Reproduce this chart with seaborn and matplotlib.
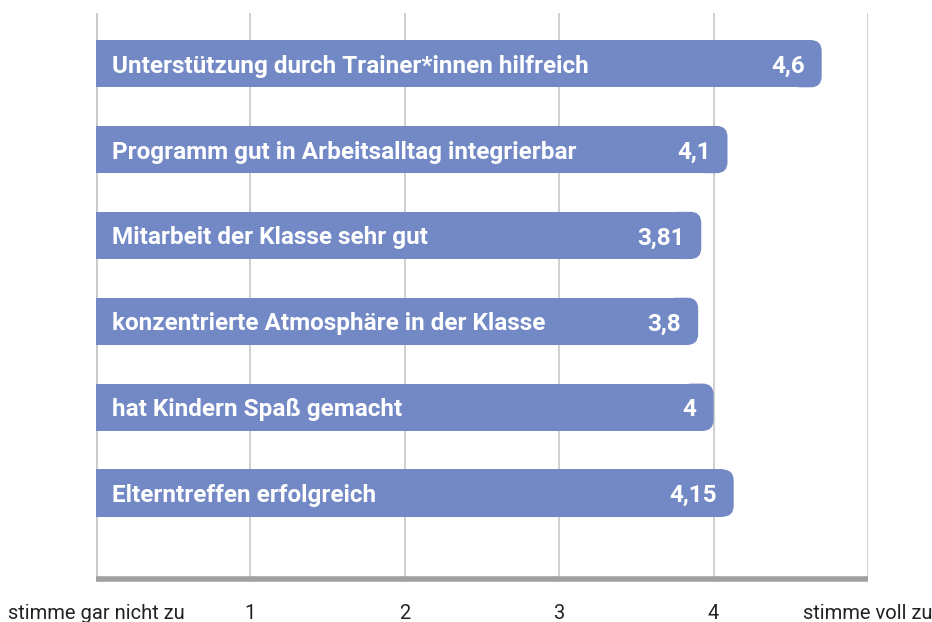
import matplotlib
matplotlib.use("Agg")
import matplotlib.pyplot as plt
from matplotlib.patches import FancyBboxPatch
import seaborn as sns
import pandas as pd

# daten aus dem bild
aussagen = [
    "Unterstützung durch Trainer*innen hilfreich",
    "Programm gut in Arbeitsalltag integrierbar",
    "Mitarbeit der Klasse sehr gut",
    "konzentrierte Atmosphäre in der Klasse",
    "hat Kindern Spaß gemacht",
    "Elterntreffen erfolgreich",
]
# balkenlaengen wie im bild gezeichnet
laengen = [4.70, 4.09, 3.92, 3.90, 4.00, 4.13]
# beschriftung der werte
werte_text = ["4,6", "4,1", "3,81", "3,8", "4", "4,15"]
tick_pos = [0, 1, 2, 3, 4, 5]
tick_text = ["stimme gar nicht zu", "1", "2", "3", "4", "stimme voll zu"]

df = pd.DataFrame({"aussage": aussagen, "wert": laengen})

sns.set_theme(style="white")
plt.rcParams["font.family"] = ["Roboto", "DejaVu Sans"]

farbe = "#7289c6"
fig = plt.figure(figsize=(9.32, 6.22), dpi=100)
ax = fig.add_axes([96 / 932, 1 - 579 / 622, (868 - 96) / 932, (579 - 13) / 622])

sns.barplot(data=df, x="wert", y="aussage", color=farbe, width=0.55,
            saturation=1, ax=ax, orient="h", zorder=2)

# rechte ecken abrunden
px_x = 772 / 5.0
px_y = 86.0
r = 11 / px_x
for p in list(ax.patches):
    x0, y0 = p.get_x(), p.get_y()
    w, h = p.get_width(), p.get_height()
    p.set_width(w - r)
    p.set_edgecolor("none")
    box = FancyBboxPatch((w - 3 * r, y0), 3 * r, h,
                         boxstyle=f"round,pad=0,rounding_size={r}",
                         mutation_aspect=px_x / px_y,
                         facecolor=farbe, edgecolor="none", zorder=2)
    ax.add_patch(box)

for i, (txt, w, wt) in enumerate(zip(aussagen, laengen, werte_text)):
    ax.text(0.105, i, txt, color="white", fontsize=17.5, fontweight="bold",
            va="center_baseline", ha="left", zorder=3)
    ax.text(w - 0.11, i, wt, color="white", fontsize=17.5, fontweight="bold",
            va="center_baseline", ha="right", zorder=3)

ax.set_xlim(0, 5)
ax.set_ylim(6, -0.59)
for x in tick_pos:
    ax.axvline(x, color="#c8c8c8", lw=1.2 if x else 2, zorder=1)
ax.axhline(6, color="#a0a0a0", lw=4, zorder=4, clip_on=False,
           solid_capstyle="butt")

ax.set_xticks(tick_pos)
ax.set_xticklabels(tick_text, fontsize=14.5, color="#222222")
ax.tick_params(axis="x", length=0, pad=18)
ax.set_yticks([])
ax.set_xlabel("")
ax.set_ylabel("")
for s in ax.spines.values():
    s.set_visible(False)

fig.savefig("out.png", dpi=100)
